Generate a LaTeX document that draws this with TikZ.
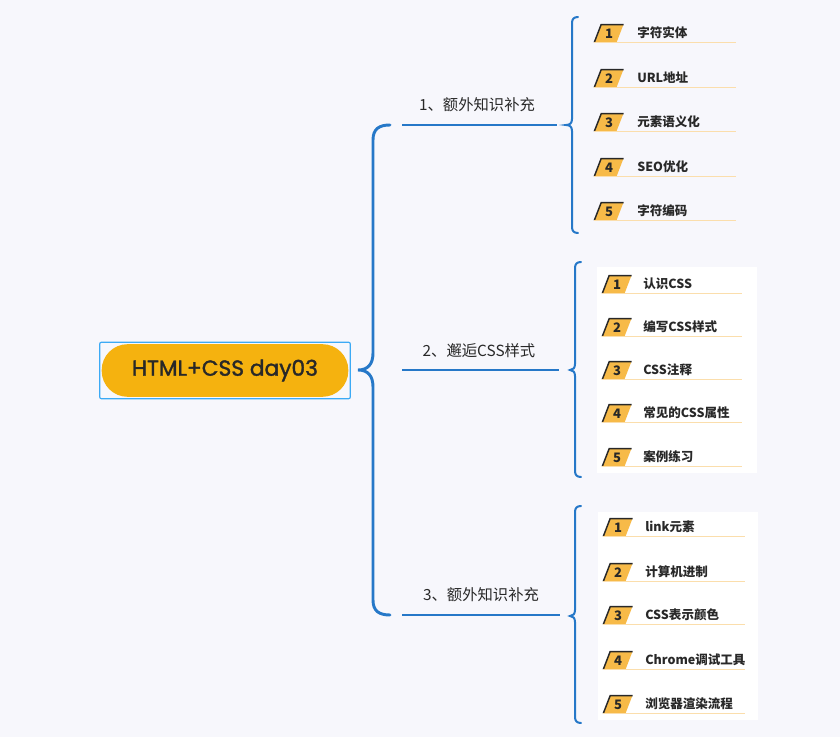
\documentclass[tikz,border=0pt]{standalone}
\usepackage{fontspec}
\newfontfamily\cjk{Noto Sans CJK SC}
\newfontfamily\pop[FakeBold=1.6]{Poppins}
\usetikzlibrary{shapes.geometric}
\usetikzlibrary{fit}
\definecolor{bgcol}{RGB}{247,247,252}
\definecolor{linecol}{RGB}{38,120,200}
\definecolor{framecol}{RGB}{60,170,245}
\definecolor{rootcol}{RGB}{245,178,15}
\definecolor{badgecol}{RGB}{247,186,72}
\definecolor{ulcol}{RGB}{251,222,172}
\definecolor{txtcol}{RGB}{40,40,40}
\tikzset{
  mainbrace/.style={color=linecol, line width=2.2pt, line cap=round},
  subbrace/.style={color=linecol, line width=1.5pt, line cap=round},
  badge/.style={trapezium, trapezium left angle=70, trapezium right angle=110,
    trapezium stretches=true, minimum width=21.5pt, minimum height=13pt,
    inner sep=0pt, fill=badgecol, font=\cjk\bfseries\fontsize{9.8}{10}\selectfont, text=txtcol},
  badgeedge/.style={color=txtcol, line width=1.1pt},
  itemtxt/.style={anchor=west, inner sep=0pt, font=\cjk\bfseries\fontsize{9.4}{10}\selectfont, text=txtcol},
  uline/.style={color=ulcol, line width=0.8pt},
  branchtxt/.style={inner sep=0pt, font=\cjk\fontsize{11.5}{12}\selectfont, text=txtcol}
}
\begin{document}
\begin{tikzpicture}[x=0.75pt,y=0.75pt,yscale=-1,xscale=1]
%Background
\fill[bgcol] (0,0) rectangle (840,737);
\useasboundingbox (0,0) rectangle (840,737);
%White panels
\fill[white] (597,267) rectangle (757,473);
\fill[white] (598,512) rectangle (758,720);

%Root
\node[fill=rootcol, rounded corners=19.5pt, minimum width=185pt, minimum height=39.5pt, inner sep=0pt,
  font=\pop\fontsize{16.3}{17}\selectfont, text=txtcol] (root) at (225,370.5) {HTML+CSS day03};
\node[draw=framecol, line width=0.9pt, rounded corners=1.5pt, fit=(root), inner sep=1.3pt] (rootframe) {};

%Main brace
\coordinate (top) at (390,125);
\coordinate (tip) at (358,370);
\coordinate (bot) at (390,615);
\draw[mainbrace] (top) .. controls (379,125) and (373,129) .. (373,140) -- (373,353) .. controls (373,364) and (368,370) .. (tip) .. controls (368,370) and (373,376) .. (373,387) -- (373,600) .. controls (373,611) and (379,615) .. (bot);

%Branch lines
\coordinate (s1) at (402,125);
\coordinate (e1) at (557,125);
\coordinate (s2) at (402,370);
\coordinate (e2) at (559,370);
\coordinate (s3) at (402,615);
\coordinate (e3) at (560,615);
\draw[mainbrace, line cap=butt] (s1) -- (e1);
\draw[mainbrace, line cap=butt] (s2) -- (e2);
\draw[mainbrace, line cap=butt] (s3) -- (e3);

% Text Node
\node[branchtxt] (b1) at (477,105) {1、额外知识补充};
% Text Node
\node[branchtxt] (b2) at (479,351) {2、邂逅CSS样式};
% Text Node
\node[branchtxt] (b3) at (481,595) {3、额外知识补充};

%Sub braces
\draw[subbrace] (578,17) .. controls (574,17) and (572,19) .. (572,23) -- (572,119) .. controls (572,123) and (570,125) .. (566,125) .. controls (570,125) and (572,127) .. (572,131) -- (572,227) .. controls (572,231) and (574,233) .. (578,233);
\draw[subbrace] (581,262) .. controls (577,262) and (575,264) .. (575,268) -- (575,364) .. controls (575,368) and (573,370) .. (570,370) .. controls (573,370) and (575,372) .. (575,376) -- (575,471) .. controls (575,475) and (577,477) .. (581,477);
\draw[subbrace] (581,506) .. controls (577,506) and (575,508) .. (575,512) -- (575,610) .. controls (575,614) and (573,616) .. (570,616) .. controls (573,616) and (575,618) .. (575,622) -- (575,717) .. controls (575,721) and (577,723) .. (581,723);

%Group 1
\node[badge] (n11) at (609,33.5) {1};
\draw[badgeedge] (n11.bottom left corner) -- (n11.top left corner) -- (n11.top right corner);
\draw[uline] (n11.bottom left corner) -- ++(142,0);
\node[itemtxt] (t11) at (637,33) {字符实体};
\node[badge] (n12) at (609,78.5) {2};
\draw[badgeedge] (n12.bottom left corner) -- (n12.top left corner) -- (n12.top right corner);
\draw[uline] (n12.bottom left corner) -- ++(142,0);
\node[itemtxt] (t12) at (637,78) {URL地址};
\node[badge] (n13) at (609,122.5) {3};
\draw[badgeedge] (n13.bottom left corner) -- (n13.top left corner) -- (n13.top right corner);
\draw[uline] (n13.bottom left corner) -- ++(142,0);
\node[itemtxt] (t13) at (637,122) {元素语义化};
\node[badge] (n14) at (609,167.5) {4};
\draw[badgeedge] (n14.bottom left corner) -- (n14.top left corner) -- (n14.top right corner);
\draw[uline] (n14.bottom left corner) -- ++(142,0);
\node[itemtxt] (t14) at (637,167) {SEO优化};
\node[badge] (n15) at (609,211.5) {5};
\draw[badgeedge] (n15.bottom left corner) -- (n15.top left corner) -- (n15.top right corner);
\draw[uline] (n15.bottom left corner) -- ++(142,0);
\node[itemtxt] (t15) at (637,211) {字符编码};

%Group 2
\node[badge] (n21) at (617,284.5) {1};
\draw[badgeedge] (n21.bottom left corner) -- (n21.top left corner) -- (n21.top right corner);
\draw[uline] (n21.bottom left corner) -- ++(140,0);
\node[itemtxt] (t21) at (643,284) {认识CSS};
\node[badge] (n22) at (617,327.5) {2};
\draw[badgeedge] (n22.bottom left corner) -- (n22.top left corner) -- (n22.top right corner);
\draw[uline] (n22.bottom left corner) -- ++(140,0);
\node[itemtxt] (t22) at (643,327) {编写CSS样式};
\node[badge] (n23) at (617,370.5) {3};
\draw[badgeedge] (n23.bottom left corner) -- (n23.top left corner) -- (n23.top right corner);
\draw[uline] (n23.bottom left corner) -- ++(140,0);
\node[itemtxt] (t23) at (643,370) {CSS注释};
\node[badge] (n24) at (617,413.5) {4};
\draw[badgeedge] (n24.bottom left corner) -- (n24.top left corner) -- (n24.top right corner);
\draw[uline] (n24.bottom left corner) -- ++(140,0);
\node[itemtxt] (t24) at (643,413) {常见的CSS属性};
\node[badge] (n25) at (617,457.5) {5};
\draw[badgeedge] (n25.bottom left corner) -- (n25.top left corner) -- (n25.top right corner);
\draw[uline] (n25.bottom left corner) -- ++(140,0);
\node[itemtxt] (t25) at (643,457) {案例练习};

%Group 3
\node[badge] (n31) at (618,527.5) {1};
\draw[badgeedge] (n31.bottom left corner) -- (n31.top left corner) -- (n31.top right corner);
\draw[uline] (n31.bottom left corner) -- ++(142,0);
\node[itemtxt] (t31) at (645,527) {link元素};
\node[badge] (n32) at (618,572.5) {2};
\draw[badgeedge] (n32.bottom left corner) -- (n32.top left corner) -- (n32.top right corner);
\draw[uline] (n32.bottom left corner) -- ++(142,0);
\node[itemtxt] (t32) at (645,572) {计算机进制};
\node[badge] (n33) at (618,615.5) {3};
\draw[badgeedge] (n33.bottom left corner) -- (n33.top left corner) -- (n33.top right corner);
\draw[uline] (n33.bottom left corner) -- ++(142,0);
\node[itemtxt] (t33) at (645,615) {CSS表示颜色};
\node[badge] (n34) at (618,660.5) {4};
\draw[badgeedge] (n34.bottom left corner) -- (n34.top left corner) -- (n34.top right corner);
\draw[uline] (n34.bottom left corner) -- ++(142,0);
\node[itemtxt] (t34) at (645,660) {Chrome调试工具};
\node[badge] (n35) at (618,704.5) {5};
\draw[badgeedge] (n35.bottom left corner) -- (n35.top left corner) -- (n35.top right corner);
\draw[uline] (n35.bottom left corner) -- ++(142,0);
\node[itemtxt] (t35) at (645,704) {浏览器渲染流程};
\end{tikzpicture}
\end{document}
